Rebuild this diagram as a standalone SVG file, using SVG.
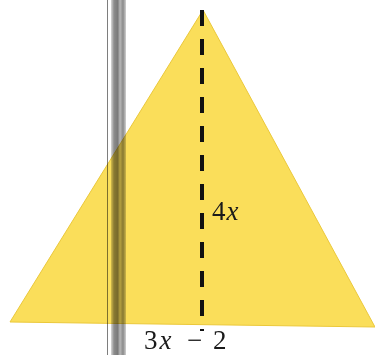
<svg xmlns="http://www.w3.org/2000/svg" width="375" height="355" viewBox="0 0 375 355">
  <defs>
    <linearGradient id="poleGrad" x1="0" y1="0" x2="1" y2="0">
      <stop offset="0" stop-color="#d8d8d8"/>
      <stop offset="0.2" stop-color="#8c8c8c"/>
      <stop offset="0.45" stop-color="#7a7a7a"/>
      <stop offset="0.6" stop-color="#b8b8b8"/>
      <stop offset="0.8" stop-color="#8a8a8a"/>
      <stop offset="1" stop-color="#d0d0d0"/>
    </linearGradient>
  </defs>
  <style>
    .lbl { font-family: "Liberation Serif", "DejaVu Serif", serif; font-size: 27px; fill: #1a1a1a; }
    .it { font-style: italic; }
    .dash { stroke: #111; stroke-width: 4; stroke-dasharray: 16 13; fill: none; }
  </style>
  <rect width="375" height="355" fill="#ffffff"/>
  <g id="triangle">
    <polygon points="203,10 10,322 375,327" fill="#fade5a" stroke="#ebc83a" stroke-width="1"/>
  </g>
  <g id="pole" style="mix-blend-mode:multiply">
    <line x1="107.5" y1="0" x2="107.5" y2="355" stroke="#7e7e7e" stroke-width="1"/>
    <rect x="111" y="0" width="15" height="355" fill="url(#poleGrad)"/>
  </g>
  <g id="connectors">
    <line class="dash" x1="202" y1="10" x2="202" y2="331"/>
  </g>
  <g id="label-height">
    <text class="lbl" x="212" y="220">4<tspan class="it" dx="1">x</tspan></text>
  </g>
  <g id="label-base">
    <text class="lbl" x="144" y="349">3<tspan class="it" dx="2">x</tspan><tspan x="187">−</tspan><tspan x="213">2</tspan></text>
  </g>
</svg>
